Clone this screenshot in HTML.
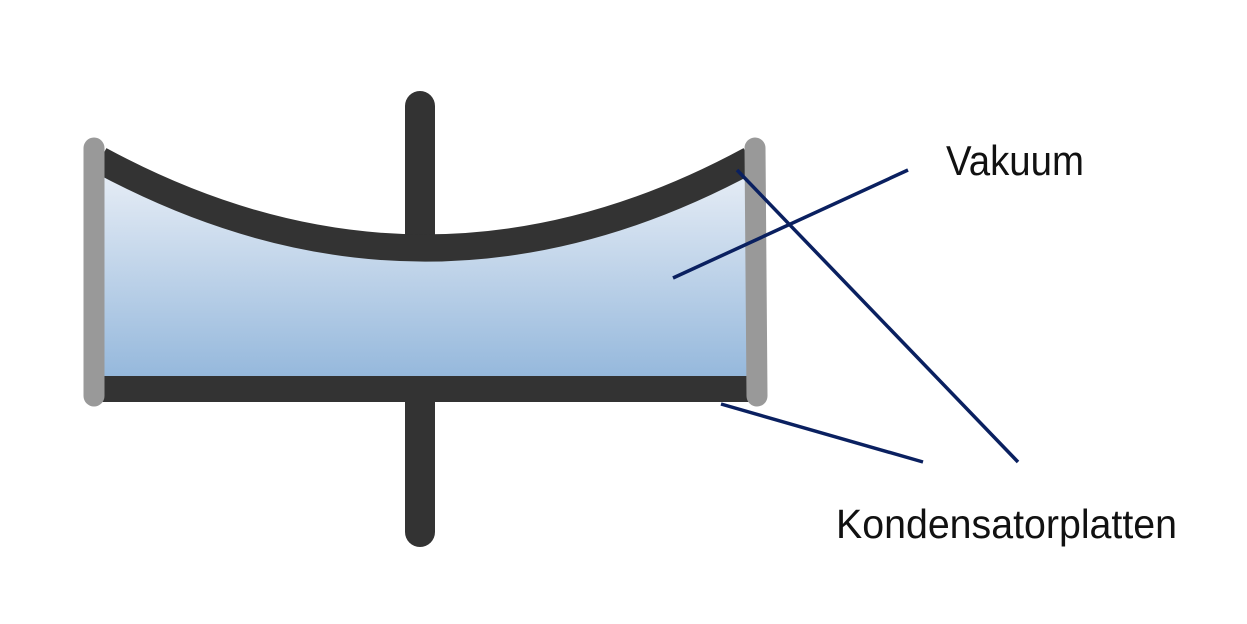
<!DOCTYPE html>
<html><head><meta charset="utf-8"><style>
html,body{margin:0;padding:0;background:#fff;width:1247px;height:624px;overflow:hidden}
svg{display:block}
</style></head><body>
<svg width="1247" height="624" viewBox="0 0 1247 624" xmlns="http://www.w3.org/2000/svg">
<defs>
<linearGradient id="g" x1="0" y1="0" x2="0" y2="1">
<stop offset="0" stop-color="#e8eef6"/>
<stop offset="1" stop-color="#95b8dc"/>
</linearGradient>
</defs>
<path d="M100 168 Q425 336 750 168 L750 378 L100 378 Z" fill="url(#g)"/>
<line x1="420" y1="106" x2="420" y2="240" stroke="#333" stroke-width="30" stroke-linecap="round"/>
<line x1="420" y1="400" x2="420" y2="532" stroke="#333" stroke-width="30" stroke-linecap="round"/>
<path d="M100 160 Q425 336 750 160" fill="none" stroke="#333" stroke-width="27"/>
<rect x="94" y="376" width="660" height="26" fill="#333"/>
<line x1="94" y1="148" x2="94" y2="396" stroke="#999" stroke-width="21" stroke-linecap="round"/>
<line x1="755" y1="148" x2="757" y2="396" stroke="#999" stroke-width="21" stroke-linecap="round"/>
<g stroke="#0a2060" stroke-width="3.5" fill="none">
<line x1="673" y1="278" x2="908" y2="170"/>
<line x1="737" y1="170" x2="1018" y2="462"/>
<line x1="721" y1="404" x2="923" y2="462"/>
</g>
<g font-family="Liberation Sans, sans-serif" fill="#111">
<text x="946" y="175" font-size="42" textLength="138" lengthAdjust="spacingAndGlyphs">Vakuum</text>
<text x="836" y="538" font-size="41" textLength="341" lengthAdjust="spacingAndGlyphs">Kondensatorplatten</text>
</g>
</svg>
</body></html>
